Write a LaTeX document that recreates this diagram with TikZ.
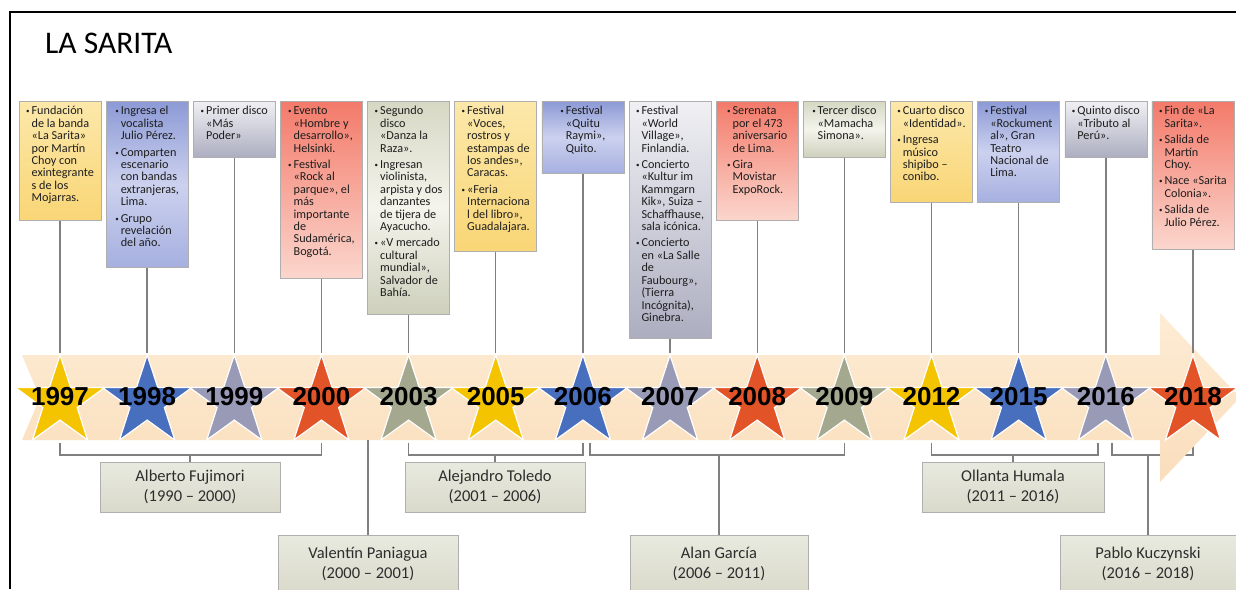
\documentclass[tikz,border=0pt]{standalone}
\usepackage{fontspec}
\setmainfont{Carlito}
\newfontfamily\arialb{Liberation Sans}
\usepackage{tikz}
\usetikzlibrary{
  shapes.geometric,         % 星形节点
  positioning               % 节点相对定位
}

% 颜色
\definecolor{amarS}{RGB}{244,196,0}
\definecolor{azulS}{RGB}{72,110,190}
\definecolor{grisS}{RGB}{152,154,182}
\definecolor{rojoS}{RGB}{226,84,40}
\definecolor{olivS}{RGB}{164,168,142}
\definecolor{bordeC}{RGB}{175,175,175}
\definecolor{lineaC}{RGB}{128,128,128}
\definecolor{textoC}{RGB}{30,30,30}
\definecolor{textoP}{RGB}{45,45,45}
\definecolor{bandaA}{RGB}{253,236,212}
\definecolor{bandaB}{RGB}{250,222,188}

% 项目符号与事件方框
\newcommand{\vin}{\raisebox{0.2ex}{\scriptsize •}}
\newcommand{\hito}[4]{%
  \node[caja, #3] (c#1) at (s#1.center |- 0,101)
    {\parbox[c][#2pt][t]{76pt}{\centering
      \begin{tabular}[t]{@{}l@{\hspace{2pt}}l@{}}#4\end{tabular}}};}

\begin{document}
\begin{tikzpicture}[x=1pt, y=-1pt,
  estrella/.style={star, star points=5, star point ratio=2.6,
    minimum size=94pt, inner sep=0pt, draw=white, line width=1.2pt},
  anio/.style={font=\arialb\bfseries\fontsize{26}{26}\selectfont,
    text=black, inner sep=0pt},
  caja/.style={rectangle, draw=bordeC, line width=0.6pt, anchor=north,
    inner xsep=3pt, inner ysep=5pt,
    font=\fontsize{12.2}{12.4}\selectfont, text=textoC},
  amar/.style={top color={rgb,255:red,252;green,232;blue,170},
    bottom color={rgb,255:red,249;green,214;blue,118}},
  azul/.style={top color={rgb,255:red,140;green,154;blue,214},
    bottom color={rgb,255:red,166;green,176;blue,224},
    middle color={rgb,255:red,204;green,209;blue,238}},
  gris/.style={top color={rgb,255:red,240;green,240;blue,244},
    bottom color={rgb,255:red,172;green,174;blue,192}},
  rojo/.style={top color={rgb,255:red,243;green,122;blue,106},
    bottom color={rgb,255:red,251;green,214;blue,205}},
  oliv/.style={top color={rgb,255:red,214;green,216;blue,196},
    bottom color={rgb,255:red,206;green,208;blue,188},
    middle color={rgb,255:red,244;green,244;blue,236}},
  enlace/.style={draw=lineaC, line width=1.4pt},
  presi/.style={rectangle, draw=bordeC, line width=0.6pt, anchor=north,
    top color={rgb,255:red,233;green,234;blue,223},
    bottom color={rgb,255:red,217;green,218;blue,203},
    minimum width=180pt, minimum height=50pt, align=center,
    font=\fontsize{16.5}{20}\selectfont, text=textoP}]

  \useasboundingbox (0,0) rectangle (1236,589);

  % 外框与标题
  \draw[line width=2pt] (10,589) -- (10,12) -- (1236,12);
  \node[anchor=base west, inner sep=0pt, font=\fontsize{31.5}{32}\selectfont]
    (titulo) at (45,53) {LA SARITA};

  % 星形位置
  \foreach \i in {1,...,14}
    \coordinate (s\i) at ({60+87.15*(\i-1)},402);

  % 总统任期括号
  \draw[enlace] (s1 |- 0,443) -- (s1 |- 0,455) -- (s4 |- 0,455) -- (s4 |- 0,443);
  \draw[enlace] (s5 |- 0,443) -- (s5 |- 0,455) -- (s7 |- 0,455) -- (s7 |- 0,443);
  \draw[enlace] ([xshift=7pt]s7 |- 0,443) -- ([xshift=7pt]s7 |- 0,455)
    -- (s10 |- 0,455) -- (s10 |- 0,443);
  \draw[enlace] (s11 |- 0,443) -- (s11 |- 0,455)
    -- ([xshift=-8pt]s13 |- 0,455) -- ([xshift=-8pt]s13 |- 0,443);
  \draw[enlace] ([xshift=6pt]s13 |- 0,443) -- ([xshift=6pt]s13 |- 0,455)
    -- (s14 |- 0,455) -- (s14 |- 0,443);

  % 箭头带
  \shade[top color=bandaA, bottom color=bandaB]
    (22,355) -- (1160,355) -- (1160,313) -- (1240,397.5) -- (1160,482)
    -- (1160,440) -- (22,440) -- (40,397.5) -- cycle;

  % 星形与年份
  \foreach \a/\c [count=\i] in {1997/amarS,1998/azulS,1999/grisS,2000/rojoS,
      2003/olivS,2005/amarS,2006/azulS,2007/grisS,2008/rojoS,2009/olivS,
      2012/amarS,2015/azulS,2016/grisS,2018/rojoS}{
    \node[estrella, fill=\c] (s\i) at ({60+87.15*(\i-1)},402) {};
    \node[anio] (y\i) at (s\i.center |- 0,397) {\a};
  }

  % 事件方框
  \hito{1}{109}{amar}{\vin & Fundación\\ & de la banda\\ & «La Sarita»\\
    & por Martín\\ & Choy con\\ & exintegrante\\ & s de los\\ & Mojarras.}
  \hito{2}{156}{azul}{\vin & Ingresa el\\ & vocalista\\ & Julio Pérez.\\[4pt]
    \vin & Comparten\\ & escenario\\ & con bandas\\ & extranjeras,\\ & Lima.\\[4pt]
    \vin & Grupo\\ & revelación\\ & del año.}
  \hito{3}{46}{gris}{\vin & Primer disco\\ & «Más\\ & Poder»}
  \hito{4}{167}{rojo}{\vin & Evento\\ & «Hombre y\\ & desarrollo»,\\ & Helsinki.\\[4pt]
    \vin & Festival\\ & «Rock al\\ & parque», el\\ & más\\ & importante\\ & de\\
    & Sudamérica,\\ & Bogotá.}
  \hito{5}{203}{oliv}{\vin & Segundo\\ & disco\\ & «Danza la\\ & Raza».\\[4pt]
    \vin & Ingresan\\ & violinista,\\ & arpista y dos\\ & danzantes\\
    & de tijera de\\ & Ayacucho.\\[4pt]
    \vin & «V mercado\\ & cultural\\ & mundial»,\\ & Salvador de\\ & Bahía.}
  \hito{6}{140}{amar}{\vin & Festival\\ & «Voces,\\ & rostros y\\ & estampas de\\
    & los andes»,\\ & Caracas.\\[4pt]
    \vin & «Feria\\ & Internaciona\\ & l del libro»,\\ & Guadalajara.}
  \hito{7}{62}{azul}{\vin & Festival\\ & «Quitu\\ & Raymi»,\\ & Quito.}
  \hito{8}{227}{gris}{\vin & Festival\\ & «World\\ & Village»,\\ & Finlandia.\\[4pt]
    \vin & Concierto\\ & «Kultur im\\ & Kammgarn\\ & Kik», Suiza –\\
    & Schaffhause,\\ & sala icónica.\\[4pt]
    \vin & Concierto\\ & en «La Salle\\ & de\\ & Faubourg»,\\ & (Tierra\\
    & Incógnita),\\ & Ginebra.}
  \hito{9}{109}{rojo}{\vin & Serenata\\ & por el 473\\ & aniversario\\
    & de Lima.\\[4pt] \vin & Gira\\ & Movistar\\ & ExpoRock.}
  \hito{10}{46}{oliv}{\vin & Tercer disco\\ & «Mamacha\\ & Simona».}
  \hito{11}{91}{amar}{\vin & Cuarto disco\\ & «Identidad».\\[4pt]
    \vin & Ingresa\\ & músico\\ & shipibo –\\ & conibo.}
  \hito{12}{91}{azul}{\vin & Festival\\ & «Rockument\\ & al», Gran\\ & Teatro\\
    & Nacional de\\ & Lima.}
  \hito{13}{46}{gris}{\vin & Quinto disco\\ & «Tributo al\\ & Perú».}
  \hito{14}{138}{rojo}{\vin & Fin de «La\\ & Sarita».\\[4pt]
    \vin & Salida de\\ & Martín\\ & Choy.\\[4pt]
    \vin & Nace «Sarita\\ & Colonia».\\[4pt]
    \vin & Salida de\\ & Julio Pérez.}

  % 连线
  \foreach \i in {1,...,14}
    \draw[enlace] (c\i.south) -- (s\i.north);

  % 总统方框
  \node[presi] (p1) at (190,462) {Alberto Fujimori\\(1990 – 2000)};
  \node[presi, minimum height=58pt] (p2) at (368,535) {Valentín Paniagua\\(2000 – 2001)};
  \node[presi] (p3) at (495,462) {Alejandro Toledo\\(2001 – 2006)};
  \node[presi, minimum width=178pt, minimum height=58pt] (p4) at (719,535)
    {Alan García\\(2006 – 2011)};
  \node[presi, minimum width=182pt] (p5) at (1013,462) {Ollanta Humala\\(2011 – 2016)};
  \node[presi, minimum width=176pt, minimum height=58pt] (p6) at (1148,535)
    {Pablo Kuczynski\\(2016 – 2018)};

  \draw[enlace] (p1.north) -- (p1.north |- 0,455);
  \draw[enlace] (p2.north) -- (p2.north |- 0,440);
  \draw[enlace] (p3.north) -- (p3.north |- 0,455);
  \draw[enlace] (p4.north) -- (p4.north |- 0,455);
  \draw[enlace] (p5.north) -- (p5.north |- 0,455);
  \draw[enlace] (p6.north) -- (p6.north |- 0,455);
\end{tikzpicture}
\end{document}
